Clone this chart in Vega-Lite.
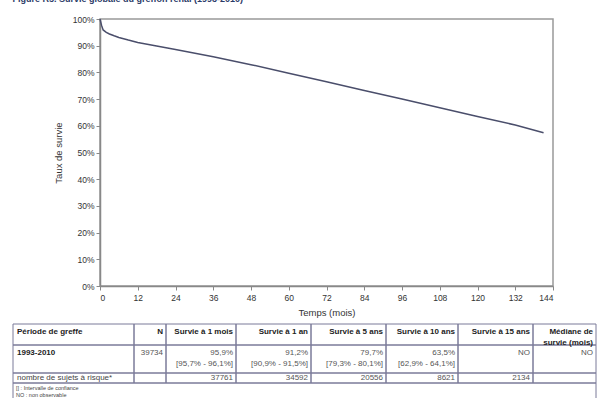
{
  "$schema": "https://vega.github.io/schema/vega-lite/v6.json",
  "padding": {"left": 12, "top": -5, "right": 5, "bottom": 0},
  "title": {"text": "Figure R5. Survie globale du greffon rénal (1993-2010)", "anchor": "start", "frame": "bounds", "fontSize": 9, "fontWeight": "bold", "color": "#2b3a67", "offset": 2, "dy": -8},
  "config": {"font": "Liberation Sans", "concat": {"spacing": 5}},
  "datasets": {
    "survie": [
      {"mois": 0, "survie": 1.0},
      {"mois": 0.25, "survie": 0.988},
      {"mois": 0.5, "survie": 0.976},
      {"mois": 1, "survie": 0.959},
      {"mois": 2, "survie": 0.950},
      {"mois": 3, "survie": 0.944},
      {"mois": 4.5, "survie": 0.937},
      {"mois": 6, "survie": 0.931},
      {"mois": 9, "survie": 0.921},
      {"mois": 12, "survie": 0.912},
      {"mois": 18, "survie": 0.899},
      {"mois": 24, "survie": 0.886},
      {"mois": 36, "survie": 0.859},
      {"mois": 48, "survie": 0.829},
      {"mois": 60, "survie": 0.797},
      {"mois": 72, "survie": 0.765},
      {"mois": 84, "survie": 0.732},
      {"mois": 96, "survie": 0.700},
      {"mois": 108, "survie": 0.668},
      {"mois": 120, "survie": 0.635},
      {"mois": 132, "survie": 0.603},
      {"mois": 141, "survie": 0.574}
    ],
    "cols": [
      {"col": "periode", "x0": 0, "x1": 121},
      {"col": "n", "x0": 121, "x1": 153},
      {"col": "m1", "x0": 153, "x1": 223},
      {"col": "a1", "x0": 223, "x1": 298},
      {"col": "a5", "x0": 298, "x1": 373},
      {"col": "a10", "x0": 373, "x1": 445},
      {"col": "a15", "x0": 445, "x1": 520},
      {"col": "med", "x0": 520, "x1": 583},
      {"col": "full", "x0": 0, "x1": 583}
    ],
    "trows": [
      {"row": "header", "y0": 0, "y1": 21, "ty": 4},
      {"row": "r1993", "y0": 21, "y1": 49, "ty": 25},
      {"row": "nombre", "y0": 49, "y1": 59, "ty": 50},
      {"row": "note", "y0": 59, "y1": 95, "ty": 62}
    ],
    "cells": [
      {"row": "header", "col": "periode", "text": "Période de greffe"},
      {"row": "header", "col": "n", "text": "N"},
      {"row": "header", "col": "m1", "text": "Survie à 1 mois"},
      {"row": "header", "col": "a1", "text": "Survie à 1 an"},
      {"row": "header", "col": "a5", "text": "Survie à 5 ans"},
      {"row": "header", "col": "a10", "text": "Survie à 10 ans"},
      {"row": "header", "col": "a15", "text": "Survie à 15 ans"},
      {"row": "header", "col": "med", "text": "Médiane de\nsurvie (mois)"},
      {"row": "r1993", "col": "periode", "text": "1993-2010"},
      {"row": "r1993", "col": "n", "text": "39734"},
      {"row": "r1993", "col": "m1", "text": "95,9%\n[95,7% - 96,1%]"},
      {"row": "r1993", "col": "a1", "text": "91,2%\n[90,9% - 91,5%]"},
      {"row": "r1993", "col": "a5", "text": "79,7%\n[79,3% - 80,1%]"},
      {"row": "r1993", "col": "a10", "text": "63,5%\n[62,9% - 64,1%]"},
      {"row": "r1993", "col": "a15", "text": "NO"},
      {"row": "r1993", "col": "med", "text": "NO"},
      {"row": "nombre", "col": "periode", "text": "nombre de sujets à risque*"},
      {"row": "nombre", "col": "n", "text": ""},
      {"row": "nombre", "col": "m1", "text": "37761"},
      {"row": "nombre", "col": "a1", "text": "34592"},
      {"row": "nombre", "col": "a5", "text": "20556"},
      {"row": "nombre", "col": "a10", "text": "8621"},
      {"row": "nombre", "col": "a15", "text": "2134"},
      {"row": "nombre", "col": "med", "text": ""},
      {"row": "note", "col": "full", "text": "[] : Intervalle de confiance\nNO : non observable"}
    ]
  },
  "vconcat": [
    {
      "width": 453,
      "height": 267,
      "view": {"stroke": "#999", "strokeWidth": 1.5},
      "data": {"name": "survie"},
      "mark": {"type": "line", "color": "#4a4e6b", "strokeWidth": 1.5},
      "encoding": {
        "x": {"field": "mois", "type": "quantitative", "scale": {"domain": [0, 144], "nice": false},
          "axis": {"values": [0, 12, 24, 36, 48, 60, 72, 84, 96, 108, 120, 132, 144], "title": "Temps (mois)", "grid": false,
            "labelFontSize": 8.5, "labelColor": "#333", "titleFontSize": 9.5, "titleFontWeight": "normal", "titleColor": "#333",
            "domainColor": "#888", "domainWidth": 1.5, "tickColor": "#888", "tickSize": 4, "labelPadding": 3, "titlePadding": 6}},
        "y": {"field": "survie", "type": "quantitative", "scale": {"domain": [0, 1], "nice": false},
          "axis": {"values": [0, 0.1, 0.2, 0.3, 0.4, 0.5, 0.6, 0.7, 0.8, 0.9, 1], "format": ".0%", "title": "Taux de survie", "grid": false,
            "labelFontSize": 8.5, "labelColor": "#333", "titleFontSize": 9.5, "titleFontWeight": "normal", "titleColor": "#333",
            "domainColor": "#888", "domainWidth": 1.5, "tickColor": "#888", "tickSize": 4, "labelPadding": 2, "titlePadding": 9}}
      }
    },
    {
      "width": 453,
      "height": 74,
      "view": {"stroke": null},
      "data": {"name": "cells"},
      "transform": [
        {"lookup": "col", "from": {"data": {"name": "cols"}, "key": "col", "fields": ["x0", "x1"]}},
        {"lookup": "row", "from": {"data": {"name": "trows"}, "key": "row", "fields": ["y0", "y1", "ty"]}}
      ],
      "layer": [
        {
          "mark": {"type": "rect", "fillOpacity": 0, "stroke": "#7a7a99", "strokeWidth": 1},
          "encoding": {
            "x": {"field": "x0", "type": "quantitative", "scale": {"domain": [87, 540], "nice": false, "zero": false}, "axis": null},
            "x2": {"field": "x1"},
            "y": {"field": "y0", "type": "quantitative", "scale": {"domain": [0, 74], "nice": false, "reverse": true}, "axis": null},
            "y2": {"field": "y1"}
          }
        },
        {
          "transform": [{"filter": "datum.col === 'periode' && datum.row !== 'nombre'"}],
          "mark": {"type": "text", "align": "left", "baseline": "top", "dx": 4, "fontSize": 8, "fontWeight": "bold", "color": "#222"},
          "encoding": {
            "x": {"field": "x0", "type": "quantitative", "scale": {"domain": [87, 540], "nice": false, "zero": false}, "axis": null},
            "y": {"field": "ty", "type": "quantitative", "scale": {"domain": [0, 74], "nice": false, "reverse": true}, "axis": null},
            "text": {"field": "text"}
          }
        },
        {
          "transform": [{"filter": "datum.col === 'periode' && datum.row === 'nombre'"}],
          "mark": {"type": "text", "align": "left", "baseline": "top", "dx": 4, "fontSize": 8, "color": "#444"},
          "encoding": {
            "x": {"field": "x0", "type": "quantitative", "scale": {"domain": [87, 540], "nice": false, "zero": false}, "axis": null},
            "y": {"field": "ty", "type": "quantitative", "scale": {"domain": [0, 74], "nice": false, "reverse": true}, "axis": null},
            "text": {"field": "text"}
          }
        },
        {
          "transform": [{"filter": "datum.col !== 'periode' && datum.col !== 'full' && datum.row === 'header'"}],
          "mark": {"type": "text", "align": "right", "baseline": "top", "dx": -3, "lineBreak": "\n", "lineHeight": 11, "fontSize": 8, "fontWeight": "bold", "color": "#222"},
          "encoding": {
            "x": {"field": "x1", "type": "quantitative", "scale": {"domain": [87, 540], "nice": false, "zero": false}, "axis": null},
            "y": {"field": "ty", "type": "quantitative", "scale": {"domain": [0, 74], "nice": false, "reverse": true}, "axis": null},
            "text": {"field": "text"}
          }
        },
        {
          "transform": [{"filter": "datum.col !== 'periode' && datum.col !== 'full' && datum.row !== 'header'"}],
          "mark": {"type": "text", "align": "right", "baseline": "top", "dx": -3, "lineBreak": "\n", "lineHeight": 11, "fontSize": 8, "color": "#555"},
          "encoding": {
            "x": {"field": "x1", "type": "quantitative", "scale": {"domain": [87, 540], "nice": false, "zero": false}, "axis": null},
            "y": {"field": "ty", "type": "quantitative", "scale": {"domain": [0, 74], "nice": false, "reverse": true}, "axis": null},
            "text": {"field": "text"}
          }
        },
        {
          "transform": [{"filter": "datum.col === 'full'"}],
          "mark": {"type": "text", "align": "left", "baseline": "top", "dx": 3, "lineBreak": "\n", "lineHeight": 7, "fontSize": 5.5, "color": "#444"},
          "encoding": {
            "x": {"field": "x0", "type": "quantitative", "scale": {"domain": [87, 540], "nice": false, "zero": false}, "axis": null},
            "y": {"field": "ty", "type": "quantitative", "scale": {"domain": [0, 74], "nice": false, "reverse": true}, "axis": null},
            "text": {"field": "text"}
          }
        }
      ]
    }
  ]
}
